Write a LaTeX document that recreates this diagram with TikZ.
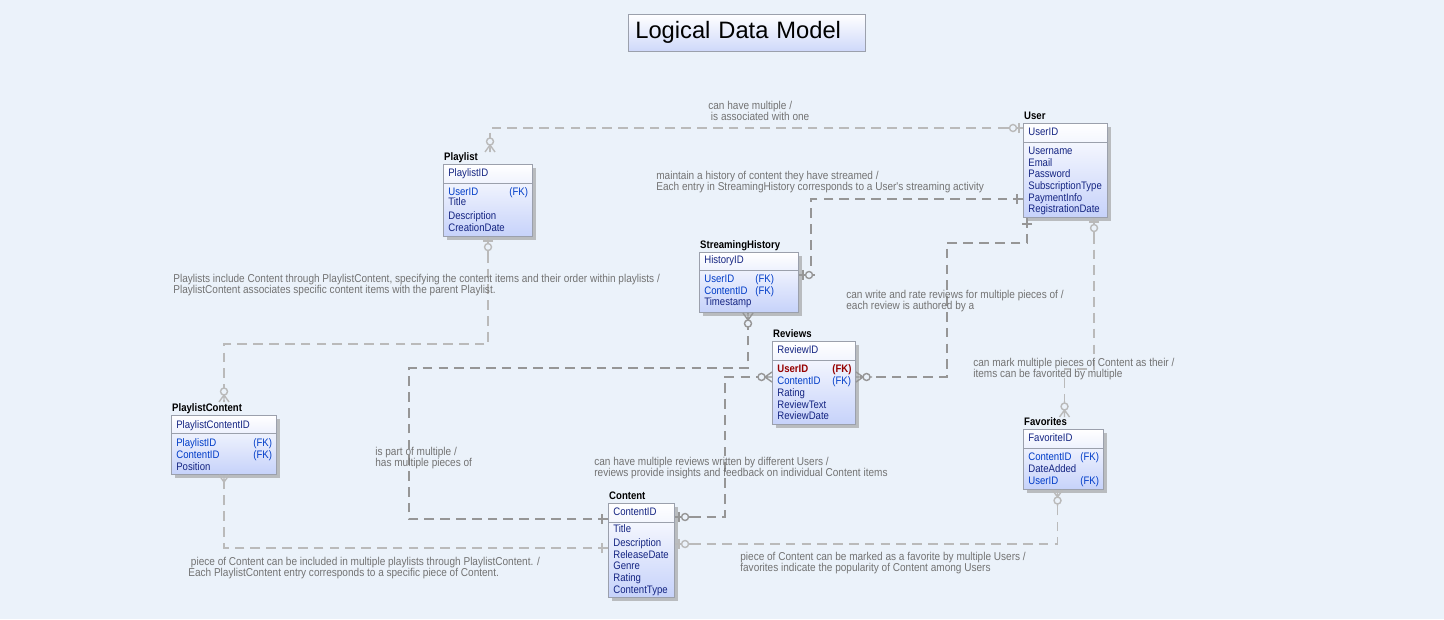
\documentclass[tikz,border=0pt]{standalone}
\usepackage{fontspec}
\setmainfont{Liberation Sans}
\newfontfamily\erfont[FakeStretch=0.88]{Liberation Sans}
\usepackage{tikz}
\usetikzlibrary{arrows.meta,positioning,calc,shadows}
\usepackage{xcolor}
\definecolor{canvasblue}{RGB}{235,242,250}
\definecolor{linedark}{RGB}{150,150,150}
\definecolor{linelight}{RGB}{186,186,186}
\definecolor{boxgray}{RGB}{155,160,172}
\definecolor{bodyblue}{RGB}{198,210,250}
\definecolor{titleblue}{RGB}{206,216,250}
\definecolor{attrnavy}{RGB}{20,36,130}
\definecolor{fkblue}{RGB}{0,60,200}
\definecolor{fkred}{RGB}{150,0,0}
\definecolor{labelgray}{RGB}{115,115,115}

% relationship end marks, local x points away from the entity
\newcommand{\markone}[3]{%
  \begin{scope}[shift={(#1)},rotate=#2]
    \draw[#3,line width=0.8pt] (0,0) -- (10,0) (6,-5) -- (6,5);
  \end{scope}}
\newcommand{\markzeroone}[3]{%
  \begin{scope}[shift={(#1)},rotate=#2]
    \draw[#3,line width=0.8pt] (0,0) -- (16,0) (4,-5) -- (4,5);
    \draw[#3,line width=0.8pt,fill=canvasblue] (10,0) circle (3.5);
  \end{scope}}
\newcommand{\markzeromany}[3]{%
  \begin{scope}[shift={(#1)},rotate=#2]
    \draw[#3,line width=0.8pt] (0,0) -- (16,0) (0,-5) -- (7,0) -- (0,5);
    \draw[#3,line width=0.8pt,fill=canvasblue] (10.5,0) circle (3.5);
  \end{scope}}
\newcommand{\markmany}[3]{%
  \begin{scope}[shift={(#1)},rotate=#2]
    \draw[#3,line width=0.8pt] (0,0) -- (10,0) (0,-5) -- (7,0) -- (0,5);
  \end{scope}}

\begin{document}
\begin{tikzpicture}[x=0.02cm,y=-0.02cm,
    entbox/.style={draw=boxgray,line width=0.6pt,top color=white,bottom color=bodyblue,
      anchor=north west,inner sep=0pt,
      drop shadow={shadow xshift=2pt,shadow yshift=-2pt,fill=black!40,opacity=.6}},
    enttitle/.style={font=\erfont\fontsize{6.2}{7}\selectfont\bfseries,anchor=south west,
      inner sep=0.5pt,text depth=1.3pt},
    attr/.style={font=\erfont\fontsize{6.2}{7}\selectfont,text=attrnavy,anchor=west,
      inner sep=0pt,text height=4.6pt,text depth=1.2pt},
    rel/.style={draw=linedark,line width=1.1pt,dash pattern=on 5.5pt off 3.5pt},
    rellight/.style={rel,draw=linelight},
    rellabel/.style={font=\erfont\fontsize{6.5}{6.24}\selectfont,text=labelgray,
      anchor=north west,align=left,inner sep=0pt}]
  % canvas
  \fill[canvasblue] (0,0) rectangle (1444,619);
  \useasboundingbox (0,0) rectangle (1444,619);

  % title
  \node[draw=boxgray,top color=white,bottom color=titleblue,anchor=north west,
    minimum height=0.74cm,text width=4.46cm,inner xsep=0.14cm,align=left,
    font=\fontsize{13.5}{16}\selectfont] (title) at (628,14) {Logical Data Model};

  % Playlist
  \node[entbox,minimum width=1.78cm,minimum height=1.44cm] (playlist) at (443,164) {};
  \node[enttitle] (playlist-t) at (playlist.north west) {Playlist};
  \draw[boxgray] ($(playlist.north west)+(0,19)$) -- ($(playlist.north east)+(0,19)$);
  \node[attr] (playlist-k) at (448,174) {PlaylistID};
  \foreach \yy/\txt/\col [count=\i] in {193/UserID/fkblue,203/Title/attrnavy,
      217/Description/attrnavy,229/CreationDate/attrnavy}
    \node[attr,text=\col] (playlist-a\i) at (448,\yy) {\txt};
  \node[attr,text=fkblue] (playlist-fk) at (509,193) {(FK)};

  % User
  \node[entbox,minimum width=1.68cm,minimum height=1.88cm] (user) at (1023,123) {};
  \node[enttitle] (user-t) at (user.north west) {User};
  \draw[boxgray] ($(user.north west)+(0,19)$) -- ($(user.north east)+(0,19)$);
  \node[attr] (user-k) at (1028,133) {UserID};
  \foreach \yy/\txt [count=\i] in {152/Username,164/Email,175/Password,
      187/SubscriptionType,199/PaymentInfo,210/RegistrationDate}
    \node[attr] (user-a\i) at (1028,\yy) {\txt};

  % StreamingHistory
  \node[entbox,minimum width=1.98cm,minimum height=1.20cm] (history) at (699,252) {};
  \node[enttitle] (history-t) at (history.north west) {StreamingHistory};
  \draw[boxgray] ($(history.north west)+(0,18)$) -- ($(history.north east)+(0,18)$);
  \node[attr] (history-k) at (704,261) {HistoryID};
  \foreach \yy/\txt/\col [count=\i] in {280/UserID/fkblue,292/ContentID/fkblue,
      303/Timestamp/attrnavy}
    \node[attr,text=\col] (history-a\i) at (704,\yy) {\txt};
  \node[attr,text=fkblue] (history-fk1) at (755,280) {(FK)};
  \node[attr,text=fkblue] (history-fk2) at (755,292) {(FK)};

  % Reviews
  \node[entbox,minimum width=1.66cm,minimum height=1.66cm] (reviews) at (772,341) {};
  \node[enttitle] (reviews-t) at (reviews.north west) {Reviews};
  \draw[boxgray] ($(reviews.north west)+(0,19)$) -- ($(reviews.north east)+(0,19)$);
  \node[attr] (reviews-k) at (777,351) {ReviewID};
  \node[attr,text=fkred,font=\erfont\fontsize{6.2}{7}\selectfont\bfseries] (reviews-a1) at (777,370) {UserID};
  \node[attr,text=fkred,font=\erfont\fontsize{6.2}{7}\selectfont\bfseries] (reviews-fk1) at (832,370) {(FK)};
  \node[attr,text=fkblue] (reviews-a2) at (777,382) {ContentID};
  \node[attr,text=fkblue] (reviews-fk2) at (832,382) {(FK)};
  \foreach \yy/\txt [count=\i from 3] in {394/Rating,406/ReviewText,417/ReviewDate}
    \node[attr] (reviews-a\i) at (777,\yy) {\txt};

  % PlaylistContent
  \node[entbox,minimum width=2.10cm,minimum height=1.18cm] (plcontent) at (171,415) {};
  \node[enttitle] (plcontent-t) at (plcontent.north west) {PlaylistContent};
  \draw[boxgray] ($(plcontent.north west)+(0,18)$) -- ($(plcontent.north east)+(0,18)$);
  \node[attr] (plcontent-k) at (176,426) {PlaylistContentID};
  \foreach \yy/\txt/\col [count=\i] in {444/PlaylistID/fkblue,456/ContentID/fkblue,
      468/Position/attrnavy}
    \node[attr,text=\col] (plcontent-a\i) at (176,\yy) {\txt};
  \node[attr,text=fkblue] (plcontent-fk1) at (253,444) {(FK)};
  \node[attr,text=fkblue] (plcontent-fk2) at (253,456) {(FK)};

  % Favorites
  \node[entbox,minimum width=1.60cm,minimum height=1.20cm] (favorites) at (1023,429) {};
  \node[enttitle] (favorites-t) at (favorites.north west) {Favorites};
  \draw[boxgray] ($(favorites.north west)+(0,19)$) -- ($(favorites.north east)+(0,19)$);
  \node[attr] (favorites-k) at (1028,439) {FavoriteID};
  \foreach \yy/\txt/\col [count=\i] in {458/ContentID/fkblue,470/DateAdded/attrnavy,
      482/UserID/fkblue}
    \node[attr,text=\col] (favorites-a\i) at (1028,\yy) {\txt};
  \node[attr,text=fkblue] (favorites-fk1) at (1080,458) {(FK)};
  \node[attr,text=fkblue] (favorites-fk2) at (1080,482) {(FK)};

  % Content
  \node[entbox,minimum width=1.32cm,minimum height=1.88cm] (content) at (608,503) {};
  \node[enttitle] (content-t) at (content.north west) {Content};
  \draw[boxgray] ($(content.north west)+(0,19)$) -- ($(content.north east)+(0,19)$);
  \node[attr] (content-k) at (613,513) {ContentID};
  \foreach \yy/\txt [count=\i] in {530/Title,544/Description,556/ReleaseDate,
      567/Genre,579/Rating,591/ContentType}
    \node[attr] (content-a\i) at (613,\yy) {\txt};

  % connector ends
  \coordinate (u-pl) at ($(user.north west)+(0,5)$);
  \coordinate (pl-u) at ($(playlist.north)+(2,-12)$);
  \coordinate (u-sh) at ($(user.north west)+(0,76)$);
  \coordinate (sh-u) at ($(history.north east)+(0,23)$);
  \coordinate (u-rv) at ($(user.south west)+(4,0)$);
  \coordinate (rv-u) at ($(reviews.north east)+(0,36)$);
  \coordinate (u-fv) at ($(user.south east)+(-14,0)$);
  \coordinate (fv-u) at ($(favorites.north)+(1,-12)$);
  \coordinate (ct-fv) at ($(content.north east)+(0,41)$);
  \coordinate (fv-ct) at ($(favorites.south)+(-6,0)$);
  \coordinate (ct-rv) at ($(content.north east)+(0,14)$);
  \coordinate (rv-ct) at ($(reviews.north west)+(0,36)$);
  \coordinate (ct-sh) at ($(content.north west)+(0,16)$);
  \coordinate (sh-ct) at ($(history.south west)+(49,0)$);
  \coordinate (ct-pc) at ($(content.north west)+(0,45)$);
  \coordinate (pc-ct) at (plcontent.south);
  \coordinate (pl-pc) at (playlist.south);
  \coordinate (pc-pl) at ($(plcontent.north)+(0,-13)$);

  % relationships
  \draw[rellight] (u-pl) -| (pl-u);
  \draw[rel] (u-sh) -| ($(sh-u)+(12,0)$) -- (sh-u);
  \draw[rel] (u-rv) -- ++(0,25) -| ($(rv-u)+(91,0)$) -- (rv-u);
  \draw[rellight] (u-fv) -- ++(0,151) -| (fv-u);
  \draw[rellight] (ct-fv) -| (fv-ct);
  \draw[rel] (ct-rv) -| ($(rv-ct)+(-47,0)$) -- (rv-ct);
  \draw[rel] (ct-sh) -| ($(sh-ct)+(-339,55)$) -| (sh-ct);
  \draw[rellight] (ct-pc) -| (pc-ct);
  \draw[rellight] (pl-pc) -- ++(0,107) -| (pc-pl);

  \markzeroone{u-pl}{180}{linelight}
  \markzeromany{pl-u}{90}{linelight}
  \markone{u-sh}{180}{linedark}
  \markzeroone{sh-u}{0}{linedark}
  \markone{u-rv}{270}{linedark}
  \markzeromany{rv-u}{0}{linedark}
  \markzeroone{u-fv}{270}{linelight}
  \markzeromany{fv-u}{90}{linelight}
  \markzeroone{ct-fv}{0}{linelight}
  \markzeromany{fv-ct}{270}{linelight}
  \markzeroone{ct-rv}{0}{linedark}
  \markzeromany{rv-ct}{180}{linedark}
  \markone{ct-sh}{180}{linedark}
  \markzeromany{sh-ct}{270}{linedark}
  \markone{ct-pc}{180}{linelight}
  \markmany{pc-ct}{270}{linelight}
  \markzeroone{pl-pc}{270}{linelight}
  \markzeromany{pc-pl}{90}{linelight}

  % relationship labels
  \node[rellabel] (lbl-upl) at (708,101) {can have multiple /\\\hspace{1.5pt}is associated with one};
  \node[rellabel] (lbl-ush) at (656,171) {maintain a history of content they have streamed /\\Each entry in StreamingHistory corresponds to a User's streaming activity};
  \node[rellabel] (lbl-urv) at (846,290) {can write and rate reviews for multiple pieces of /\\each review is authored by a};
  \node[rellabel] (lbl-ufv) at (973,358) {can mark multiple pieces of Content as their /\\items can be favorited by multiple};
  \node[rellabel] (lbl-cfv) at (740,552) {piece of Content can be marked as a favorite by multiple Users /\\favorites indicate the popularity of Content among Users};
  \node[rellabel] (lbl-crv) at (594,457) {can have multiple reviews written by different Users /\\reviews provide insights and feedback on individual Content items};
  \node[rellabel] (lbl-csh) at (375,447) {is part of multiple /\\has multiple pieces of};
  \node[rellabel] (lbl-cpc) at (188,557) {\hspace{1.5pt}piece of Content can be included in multiple playlists through PlaylistContent. /\\Each PlaylistContent entry corresponds to a specific piece of Content.};
  \node[rellabel] (lbl-ppc) at (173,274) {Playlists include Content through PlaylistContent, specifying the content items and their order within playlists /\\PlaylistContent associates specific content items with the parent Playlist.};
\end{tikzpicture}
\end{document}
